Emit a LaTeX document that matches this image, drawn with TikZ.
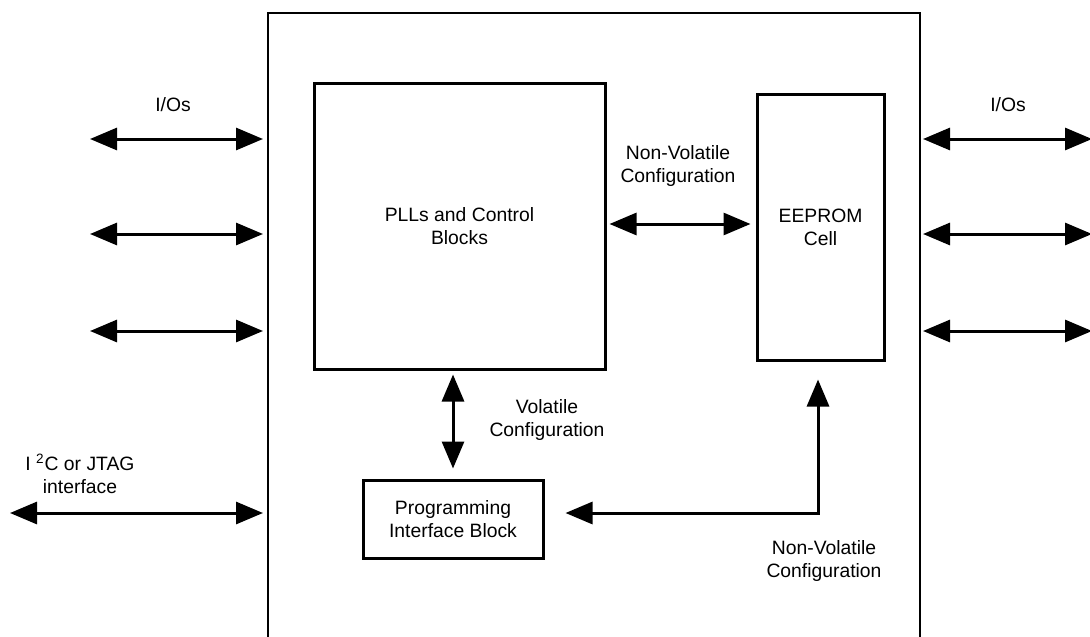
\documentclass[tikz,border=0pt]{standalone}
\usepackage{fontspec}
\setmainfont{Liberation Sans}
\usetikzlibrary{arrows.meta,positioning}

\tikzset{
  block/.style={draw, line width=0.6mm, inner sep=0pt, align=center},
  bus/.style={<->, line width=0.6mm},
  lbl/.style={align=center, inner sep=0pt}
}

\begin{document}
\begin{tikzpicture}[x=0.2mm,y=-0.2mm,>={Triangle[length=5.4mm,width=4.4mm]},
    font=\fontsize{11}{13}\selectfont]
      \useasboundingbox (0,0) rectangle (1090,636);

      % device outline, open at the bottom
      \draw[line width=0.5mm] (268,640) -- (268,13) -- (920,13) -- (920,640);

      \node[block, minimum width=5.82cm, minimum height=5.7cm] (pll) at (459.5,226.5) {PLLs and Control\\Blocks};
      \node[block, minimum width=2.54cm, minimum height=5.3cm] (eeprom) at (820.5,227.5) {EEPROM\\Cell};
      \node[block, minimum width=3.6cm, minimum height=1.56cm] (pib) at (453,519) {Programming\\Interface Block};

      % ends of the outside buses
      \coordinate (inA) at (90,139);
      \coordinate (inB) at (90,234);
      \coordinate (inC) at (90,331);
      \coordinate (inI) at (10,513);
      \coordinate (wA) at (263,139);
      \coordinate (wB) at (263,234);
      \coordinate (wC) at (263,331);
      \coordinate (wI) at (263,513);
      \coordinate (eA) at (923,139);
      \coordinate (eB) at (923,234);
      \coordinate (eC) at (923,331);
      \coordinate (outA) at (1092,139);
      \coordinate (outB) at (1092,234);
      \coordinate (outC) at (1092,331);

      \draw[bus] (inA) -- (wA);
      \draw[bus] (inB) -- (wB);
      \draw[bus] (inC) -- (wC);
      \draw[bus] (inI) -- (wI);
      \draw[bus] (eA) -- (outA);
      \draw[bus] (eB) -- (outB);
      \draw[bus] (eC) -- (outC);

      \node[lbl] (iosL) at (173,105) {I/Os};
      \node[lbl] (iosR) at (1008,105) {I/Os};
      \node[lbl] (i2c) at (80,474) {I \textsuperscript{2}C or JTAG\\interface};

      % inner connections
      \draw[bus, shorten <=0.6mm, shorten >=1mm] ([yshift=0.5mm]pll.east) -- ([yshift=0.5mm]pll.east -| eeprom.west);
      \draw[bus, shorten <=0.8mm, shorten >=2mm] (pll.south -| pib.north) -- (pib.north);
      \draw[bus, shorten <=4.2mm, shorten >=3.6mm] ([yshift=1.2mm]pib.east) -| ([xshift=-0.5mm]eeprom.south);

      \node[lbl] (nvtop) at (678,166) {Non-Volatile\\Configuration};
      \node[lbl] (vol) at (547,420) {Volatile\\Configuration};
      \node[lbl] (nvbot) at (824,561) {Non-Volatile\\Configuration};
    \end{tikzpicture}
\end{document}
